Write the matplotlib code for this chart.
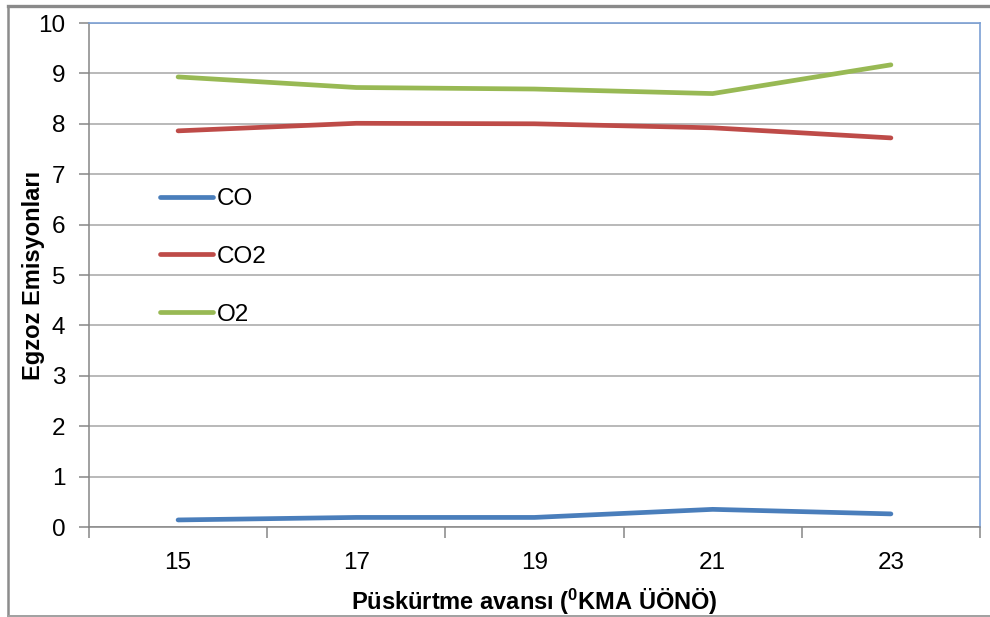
import matplotlib
matplotlib.use("Agg")
import matplotlib.pyplot as plt
from matplotlib.lines import Line2D
from matplotlib.ticker import FixedLocator

plt.rcParams['font.family'] = ['Liberation Sans', 'DejaVu Sans']
plt.rcParams['mathtext.fontset'] = 'custom'
plt.rcParams['mathtext.rm'] = 'Liberation Sans'
plt.rcParams['mathtext.bf'] = 'Liberation Sans:bold'

# Injection advance (degrees crank angle before TDC)
advance = ["15", "17", "19", "21", "23"]
co = [0.14, 0.19, 0.19, 0.35, 0.26]
co2 = [7.86, 8.01, 8.00, 7.92, 7.72]
o2 = [8.93, 8.72, 8.69, 8.60, 9.17]

series_names = ["CO", "CO2", "O2"]
series_colors = ["#4A7EBB", "#BE4B48", "#98B954"]

fig = plt.figure(figsize=(9.9, 6.17), dpi=100)
W, H = 990, 617
ax = fig.add_axes([89 / W, 1 - 527 / H, (980 - 89) / W, (527 - 23) / H])

x = list(range(len(advance)))
for vals, name, col in zip([co, co2, o2], series_names, series_colors):
    ax.plot(x, vals, color=col, lw=3.4, solid_capstyle='round',
            solid_joinstyle='round', label=name)

ax.set_xlim(-0.5, len(advance) - 0.5)
ax.set_ylim(0, 10)
ax.set_yticks(range(0, 11))
ax.set_xticks(x)
ax.set_xticklabels(advance)
ax.xaxis.set_minor_locator(FixedLocator([i - 0.5 for i in range(len(advance) + 1)]))

grid_col = "#A6A6A6"
ax.yaxis.grid(True, color=grid_col, lw=1.1)
ax.set_axisbelow(True)

ax.tick_params(axis='x', which='major', length=0, pad=18, labelsize=17.5)
ax.tick_params(axis='x', which='minor', length=8, width=1.1, color="#868686", direction='out')
ax.tick_params(axis='y', length=7, width=1.1, color="#868686", pad=10, labelsize=17.5)

for side in ['left', 'bottom']:
    ax.spines[side].set_color("#868686")
    ax.spines[side].set_linewidth(1.1)
for side in ['top', 'right']:
    ax.spines[side].set_color("#7BA0D4")
    ax.spines[side].set_linewidth(1.2)

ax.set_xlabel(r"Püskürtme avansı ($\mathbf{^{0}}$KMA ÜÖNÖ)", fontsize=17,
              fontweight='bold', labelpad=9)
ax.set_ylabel("Egzoz Emisyonları", fontsize=17, fontweight='bold', labelpad=-5)

leg = ax.legend(loc='upper left', bbox_to_anchor=(160 / W, 1 - 188 / H),
                bbox_transform=fig.transFigure, frameon=False, fontsize=17.5,
                handlelength=2.2, handletextpad=0.12, labelspacing=1.48,
                borderpad=0, borderaxespad=0)

# Outer chart frame (open on the right)
frame_col = "#8C8C8C"
fig.lines.append(Line2D([8 / W, 1.0], [1 - 6 / H, 1 - 6 / H], transform=fig.transFigure,
                        color="#8A8A8A", lw=2.4))
fig.lines.append(Line2D([8 / W, 8 / W], [1 - 6 / H, 1 - 616 / H], transform=fig.transFigure,
                        color=frame_col, lw=1.8))
fig.lines.append(Line2D([8 / W, 1.0], [1 - 616 / H, 1 - 616 / H], transform=fig.transFigure,
                        color="#A0A0A0", lw=1.4))

fig.savefig("out.png", dpi=100)
